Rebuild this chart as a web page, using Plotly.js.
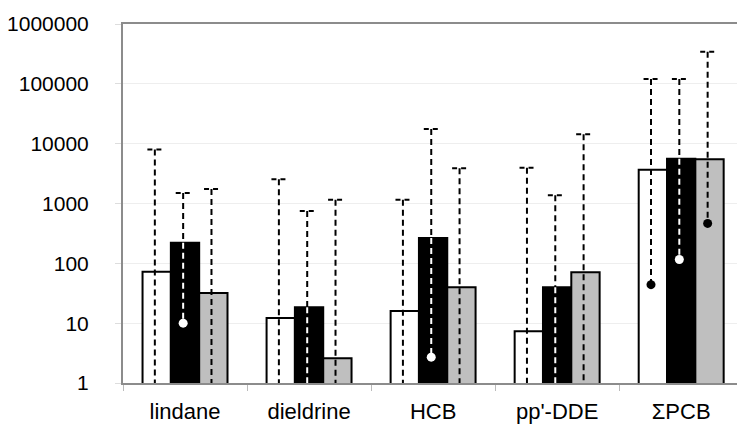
<!DOCTYPE html>
<html><head><meta charset="utf-8">
<script src="https://cdn.plot.ly/plotly-3.0.1.min.js"></script>
<style>html,body{margin:0;padding:0;background:#fff;overflow:hidden}</style>
</head><body><div id="chart" style="width:737px;height:426px"></div>
<script>
const categories = ["lindane", "dieldrine", "HCB", "pp'-DDE", "\u03A3PCB"];
const valuesWhite = [72, 12.2, 16, 7.3, 3650];
const valuesBlack = [220, 18.5, 265, 40, 5600];
const valuesGray  = [32, 2.6, 40, 71, 5500];
const maxWhite = [8000, 2550, 1150, 3950, 120000];
const maxBlack = [1500, 750, 17500, 1380, 120000];
const maxGray  = [1750, 1150, 3900, 14300, 345000];
// minimum values; 0.5 = below the axis floor (not readable)
const minWhite = [0.5, 0.5, 0.5, 0.5, 44];
const minBlack = [10, 0.5, 2.7, 0.5, 116];
const minGray  = [0.5, 0.5, 0.5, 0.5, 465];
const yTickVals = [1, 10, 100, 1000, 10000, 100000, 1000000];
const yTickText = ["1", "10", "100", "1000", "10000", "100000", "1000000"];

const bargap = 0.315;
const barW = (1 - bargap) / 3;
const lineShift = -0.015;
const capLeft = -0.06, capRight = 0.085;
const dashV = "6px,4px";
const dashH = "5px,4px";

const series = [
  {vals: valuesWhite, max: maxWhite, min: minWhite, fill: "#ffffff", dot: "#000000", inner: null},
  {vals: valuesBlack, max: maxBlack, min: minBlack, fill: "#000000", dot: "#ffffff", inner: "#ffffff"},
  {vals: valuesGray,  max: maxGray,  min: minGray,  fill: "#bfbfbf", dot: "#000000", inner: null}
];
const xIdx = categories.map((c, i) => i);
const traces = [];
series.forEach((s, k) => {
  traces.push({
    type: "bar", x: xIdx, y: s.vals,
    marker: {color: s.fill, line: {color: "#000", width: 2}},
    hoverinfo: "skip", showlegend: false
  });
});
series.forEach((s, k) => {
  const off = (k - 1) * barW + lineShift;
  const vx = [], vy = [], cx = [], cy = [], ix = [], iy = [];
  xIdx.forEach(j => {
    const x = j + off;
    vx.push(x, x, null); vy.push(s.max[j], s.min[j], null);
    cx.push(x + capLeft, x + capRight, null); cy.push(s.max[j], s.max[j], null);
    ix.push(x, x, null); iy.push(s.vals[j], s.min[j], null);
  });
  traces.push({type: "scatter", mode: "lines", x: vx, y: vy, line: {color: "#000", width: 2, dash: dashV}, hoverinfo: "skip", showlegend: false});
  traces.push({type: "scatter", mode: "lines", x: cx, y: cy, line: {color: "#000", width: 2, dash: dashH}, hoverinfo: "skip", showlegend: false});
  if (s.inner) {
    traces.push({type: "scatter", mode: "lines", x: ix, y: iy, line: {color: s.inner, width: 2, dash: dashV}, hoverinfo: "skip", showlegend: false});
  }
  traces.push({type: "scatter", mode: "markers", x: xIdx.map(j => j + off), y: s.min,
    marker: {color: s.dot, size: 9, line: {width: 0}}, hoverinfo: "skip", showlegend: false});
});

const layout = {
  width: 737, height: 426,
  margin: {l: 123, r: 0, t: 24, b: 43},
  paper_bgcolor: "#fff", plot_bgcolor: "#fff",
  barmode: "group", bargap: bargap, bargroupgap: 0,
  font: {family: "Liberation Sans, Arial, sans-serif", size: 22, color: "#000"},
  xaxis: {
    range: [-0.5, 4.45], tickvals: xIdx, ticktext: categories,
    ticks: "", showgrid: false, zeroline: false,
    showline: true, mirror: true, linecolor: "#8c8c8c", linewidth: 2,
    ticklabelstandoff: 8,
    tickfont: {size: 22},
    minor: {tickmode: "linear", tick0: -0.5, dtick: 1, ticks: "outside", ticklen: 6, tickwidth: 1, tickcolor: "#bbbbbb", showgrid: false}
  },
  yaxis: {
    type: "log", range: [0, 6], tickvals: yTickVals, ticktext: yTickText,
    ticks: "outside", ticklen: 6, tickcolor: "#dddddd",
    showgrid: true, gridcolor: "#eeeeee", gridwidth: 1, zeroline: false,
    showline: true, linecolor: "#8c8c8c", linewidth: 2,
    ticklabelstandoff: 22,
    tickfont: {size: 21}
  }
};
Plotly.newPlot("chart", traces, layout, {staticPlot: true, displayModeBar: false});
</script></body></html>
